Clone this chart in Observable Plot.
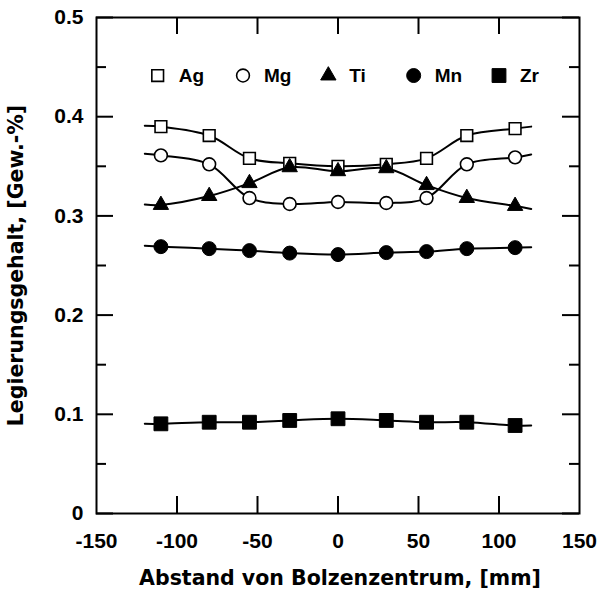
<!DOCTYPE html>
<html>
<head>
<meta charset="utf-8">
<script src="https://cdn.jsdelivr.net/npm/d3@7"></script>
<script src="https://cdn.jsdelivr.net/npm/@observablehq/plot@0.6"></script>
<style>
  body { margin: 0; background: #fff; }
  #chart svg { display: block; }
</style>
</head>
<body>
<div id="chart"></div>
<script>
// ---- data ----
const positions = [-110, -80, -55, -30, 0, 30, 55, 80, 110];   // Abstand, mm
const curveEndX = [-120, 120];                                  // where the fitted curves end
const elements = ["Ag", "Mg", "Ti", "Mn", "Zr"];
const ag = [0.390, 0.381, 0.358, 0.353, 0.350, 0.352, 0.358, 0.381, 0.388];
const mg = [0.361, 0.352, 0.318, 0.312, 0.314, 0.313, 0.318, 0.352, 0.359];
const ti = [0.311, 0.320, 0.333, 0.349, 0.345, 0.348, 0.331, 0.318, 0.310];
const mn = [0.269, 0.267, 0.265, 0.2625, 0.261, 0.263, 0.264, 0.267, 0.268];
const zr = [0.0904, 0.092, 0.092, 0.0938, 0.0955, 0.0938, 0.092, 0.092, 0.0887];
const agEnds = [0.391, 0.390];
const mgEnds = [0.3626, 0.362];
const tiEnds = [0.3115, 0.307];
const mnEnds = [0.270, 0.2685];
const zrEnds = [0.0904, 0.0887];
const xTickLabels = [-150, -100, -50, 0, 50, 100, 150];
const yTickLabels = [0, 0.1, 0.2, 0.3, 0.4, 0.5];
const yMinorTicks = [0.05, 0.15, 0.25, 0.35, 0.45];
const xTitle = "Abstand von Bolzenzentrum, [mm]";
const yTitle = "Legierungsgehalt, [Gew.-%]";

// ---- styles (not data) ----
const values = {Ag: ag, Mg: mg, Ti: ti, Mn: mn, Zr: zr};
const ends = {Ag: agEnds, Mg: mgEnds, Ti: tiEnds, Mn: mnEnds, Zr: zrEnds};
const styles = {
  Ag: {symbol: "square", fill: "white", r: 6.6},
  Mg: {symbol: "circle", fill: "white", r: 6.4},
  Ti: {symbol: "triangle", fill: "black", r: 5.7},
  Mn: {symbol: "circle", fill: "black", r: 7},
  Zr: {symbol: "square", fill: "black", r: 7.8}
};

const W = 597, H = 595;
const mL = 96, mR = 18, mT = 17, mB = 82;
const plotW = W - mL - mR, plotH = H - mT - mB;
const font = "'Liberation Sans', Arial, Helvetica, sans-serif";
const titleFont = "'DejaVu Sans', Verdana, sans-serif";

const points = elements.flatMap(el => positions.map((x, i) => ({el, x, y: values[el][i]})));
const curves = elements.map(el => [
  {x: curveEndX[0], y: ends[el][0]},
  ...positions.map((x, i) => ({x, y: values[el][i]})),
  {x: curveEndX[1], y: ends[el][1]}
]);

const legendY = 0.4415;
const legendRows = elements.map((el, i) => ({el, x: -112 + i * 53, y: legendY}));

const marks = [];
// curves
curves.forEach(c => marks.push(Plot.line(c, {x: "x", y: "y", curve: "catmull-rom", stroke: "black", strokeWidth: 2})));
// markers
elements.forEach(el => {
  const s = styles[el];
  marks.push(Plot.dot(points.filter(d => d.el === el), {
    x: "x", y: "y", symbol: s.symbol, r: s.r, fill: s.fill, stroke: "black",
    strokeWidth: s.fill === "white" ? 1.6 : 1
  }));
});
// legend
elements.forEach(el => {
  const s = styles[el];
  marks.push(Plot.dot(legendRows.filter(d => d.el === el), {
    x: "x", y: "y", symbol: s.symbol, r: s.r, fill: s.fill, stroke: "black",
    strokeWidth: s.fill === "white" ? 1.6 : 1
  }));
});
marks.push(Plot.text(legendRows, {x: "x", y: "y", text: "el", dx: 21, textAnchor: "start",
  fontSize: 19, fontWeight: "bold", fontFamily: font, fill: "black"}));

// inward ticks
const xInner = xTickLabels.filter(v => v > -150 && v < 150);
marks.push(Plot.tickX(xInner, {x: d => d, insetTop: plotH - 17, stroke: "black", strokeWidth: 2}));
marks.push(Plot.tickX(xInner, {x: d => d, insetBottom: plotH - 17, stroke: "black", strokeWidth: 2}));
marks.push(Plot.tickY(yTickLabels, {y: d => d, insetRight: plotW - 17, stroke: "black", strokeWidth: 2}));
marks.push(Plot.tickY(yTickLabels, {y: d => d, insetLeft: plotW - 17, stroke: "black", strokeWidth: 2}));
marks.push(Plot.tickY(yMinorTicks, {y: d => d, insetRight: plotW - 10, stroke: "black", strokeWidth: 2}));
marks.push(Plot.tickY(yMinorTicks, {y: d => d, insetLeft: plotW - 10, stroke: "black", strokeWidth: 2}));
marks.push(Plot.frame({stroke: "black", strokeWidth: 2}));

// axes
marks.push(Plot.axisX({ticks: xTickLabels, tickSize: 0, tickPadding: 20, tickFormat: d => String(d),
  fontSize: 21, fontWeight: "bold", fontFamily: font, label: null, fill: "black"}));
marks.push(Plot.axisY({ticks: yTickLabels, tickSize: 0, tickPadding: 13, tickFormat: d => String(d),
  fontSize: 21, fontWeight: "bold", fontFamily: font, label: null, fill: "black"}));
// axis titles
marks.push(Plot.text([xTitle], {text: d => d, frameAnchor: "bottom", lineAnchor: "top", dy: 57, dx: 2,
  fontSize: 20.5, fontWeight: "bold", fontFamily: titleFont, fill: "black"}));
marks.push(Plot.text([yTitle], {text: d => d, frameAnchor: "left", rotate: -90, lineAnchor: "top",
  textAnchor: "middle", dx: -88,
  fontSize: 20.5, fontWeight: "bold", fontFamily: titleFont, fill: "black"}));

const chart = Plot.plot({
  width: W, height: H,
  marginLeft: mL, marginRight: mR, marginTop: mT, marginBottom: mB,
  x: {domain: [-150, 150]},
  y: {domain: [0, 0.5]},
  style: {fontFamily: font, background: "white", color: "black"},
  marks
});
document.getElementById("chart").appendChild(chart);
</script>
</body>
</html>
